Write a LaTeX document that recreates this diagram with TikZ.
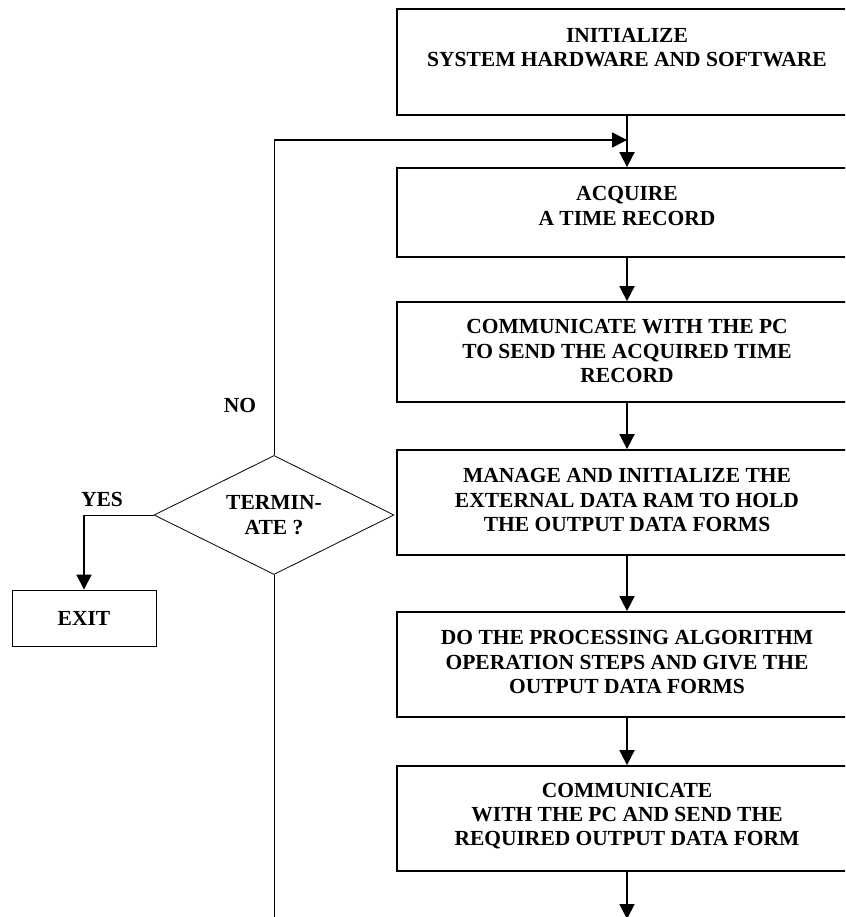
\documentclass[tikz,border=0pt]{standalone}
\usepackage{fontspec}
\setmainfont{Liberation Serif}
\usetikzlibrary{arrows.meta,shapes.geometric}
\tikzset{
  every node/.style={font=\fontsize{21.5}{24.3}\selectfont\bfseries},
  procbox/.style={draw, line width=1.8pt, minimum width=460pt, inner sep=0pt},
  boxtext/.style={align=center, inner sep=0pt},
  exitbox/.style={draw, line width=0.9pt, minimum width=144pt, minimum height=56pt, inner sep=0pt},
  decision/.style={draw, diamond, line width=0.8pt, minimum width=240pt, minimum height=119pt, aspect=2, inner sep=0pt, align=center},
  flow/.style={line width=1.8pt, -{Triangle[width=15pt,length=15pt]}},
  plain/.style={line width=1pt},
  thinline/.style={line width=0.8pt},
  lbl/.style={inner sep=0pt}
}
\begin{document}
\begin{tikzpicture}[x=1pt,y=-1pt]
\useasboundingbox (0,0) rectangle (845,917);
\clip (0,0) rectangle (845,917);
\node[procbox, minimum height=106pt] (b1) at (627,62) {};
\node[procbox, minimum height=89pt] (b2) at (627,212.5) {};
\node[procbox, minimum height=100pt] (b3) at (627,352) {};
\node[procbox, minimum height=105pt] (b4) at (627,502.5) {};
\node[procbox, minimum height=105pt] (b5) at (627,664.5) {};
\node[procbox, minimum height=105pt] (b6) at (627,818.5) {};
\node[boxtext] (t1) at (627,47.5) {INITIALIZE\\SYSTEM HARDWARE AND SOFTWARE};
\node[boxtext] (t2) at (627,206) {ACQUIRE\\A TIME RECORD};
\node[boxtext] (t3) at (627,351) {COMMUNICATE WITH THE PC\\TO SEND THE ACQUIRED TIME\\RECORD};
\node[boxtext] (t4) at (627,500) {MANAGE AND INITIALIZE THE\\EXTERNAL DATA RAM TO HOLD\\THE OUTPUT DATA FORMS};
\node[boxtext] (t5) at (627,662) {DO THE PROCESSING ALGORITHM\\OPERATION STEPS AND GIVE THE\\OUTPUT DATA FORMS};
\node[boxtext] (t6) at (627,816) {COMMUNICATE\\WITH THE PC AND SEND THE\\REQUIRED OUTPUT DATA FORM};
\node[decision] (dec) at (274,515) {TERMIN-\\ATE ?};
\node[exitbox] (exit) at (84,618) {EXIT};
\node[lbl] (no) at (240,405) {NO};
\node[lbl] (yes) at (102,499) {YES};
\coordinate (loopc) at (627,140);
\coordinate (loopl) at (274,140);
\coordinate (yc) at (84,515);
\coordinate (botR) at (627,919);
\coordinate (botL) at (274,920);
\draw[flow] (b1.south) -- (b2.north);
\draw[flow] (b2.south) -- (b3.north);
\draw[flow] (b3.south) -- (b4.north);
\draw[flow] (b4.south) -- (b5.north);
\draw[flow] (b5.south) -- (b6.north);
\draw[flow] (b6.south) -- (botR);
\draw[plain] (dec.north) -- (loopl);
\draw[flow] (loopl) -- (loopc);
\draw[plain] (dec.south) -- (botL);
\draw[thinline] (dec.west) -- (yc);
\draw[flow] (yc) -- (exit.north);
\end{tikzpicture}
\end{document}
